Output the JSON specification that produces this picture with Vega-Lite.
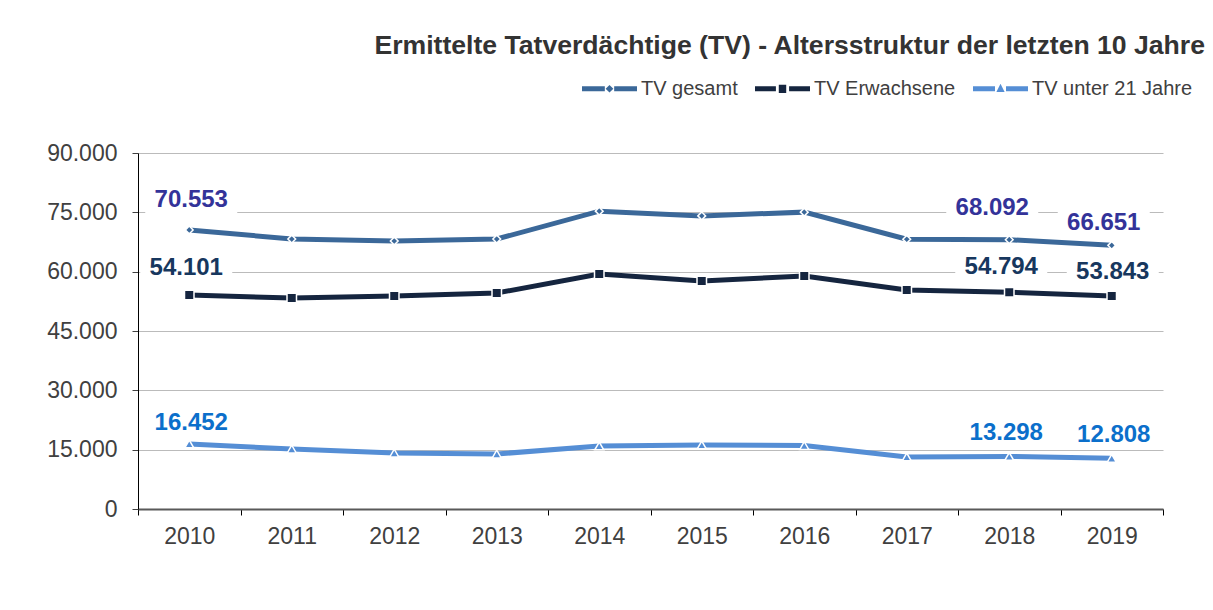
{
  "$schema": "https://vega.github.io/schema/vega-lite/v6.json",
  "width": 1025,
  "height": 356,
  "autosize": {"type": "none"},
  "padding": {"left": 138, "top": 153, "right": 50, "bottom": 101},
  "background": "white",
  "title": {
    "text": "Ermittelte Tatverdächtige (TV) - Altersstruktur der letzten 10 Jahre",
    "anchor": "end",
    "frame": "group",
    "font": "Liberation Sans",
    "fontSize": 26.6,
    "fontWeight": "bold",
    "color": "#333333",
    "dx": 42,
    "dy": 26,
    "offset": 6,
    "baseline": "alphabetic"
  },
  "config": {
    "locale": {"number": {"decimal": ",", "thousands": ".", "grouping": [3], "currency": ["", " €"]}},
    "view": {"stroke": null},
    "font": "Liberation Sans"
  },
  "data": {
    "values": [
      {"year": "2010", "series": "TV gesamt", "value": 70553},
      {"year": "2011", "series": "TV gesamt", "value": 68250},
      {"year": "2012", "series": "TV gesamt", "value": 67750},
      {"year": "2013", "series": "TV gesamt", "value": 68250},
      {"year": "2014", "series": "TV gesamt", "value": 75300},
      {"year": "2015", "series": "TV gesamt", "value": 74100},
      {"year": "2016", "series": "TV gesamt", "value": 75050},
      {"year": "2017", "series": "TV gesamt", "value": 68200},
      {"year": "2018", "series": "TV gesamt", "value": 68092},
      {"year": "2019", "series": "TV gesamt", "value": 66651},
      {"year": "2010", "series": "TV Erwachsene", "value": 54101},
      {"year": "2011", "series": "TV Erwachsene", "value": 53350},
      {"year": "2012", "series": "TV Erwachsene", "value": 53850},
      {"year": "2013", "series": "TV Erwachsene", "value": 54600},
      {"year": "2014", "series": "TV Erwachsene", "value": 59400},
      {"year": "2015", "series": "TV Erwachsene", "value": 57650},
      {"year": "2016", "series": "TV Erwachsene", "value": 58900},
      {"year": "2017", "series": "TV Erwachsene", "value": 55350},
      {"year": "2018", "series": "TV Erwachsene", "value": 54794},
      {"year": "2019", "series": "TV Erwachsene", "value": 53843},
      {"year": "2010", "series": "TV unter 21 Jahre", "value": 16452},
      {"year": "2011", "series": "TV unter 21 Jahre", "value": 15150},
      {"year": "2012", "series": "TV unter 21 Jahre", "value": 14150},
      {"year": "2013", "series": "TV unter 21 Jahre", "value": 13900},
      {"year": "2014", "series": "TV unter 21 Jahre", "value": 15950},
      {"year": "2015", "series": "TV unter 21 Jahre", "value": 16200},
      {"year": "2016", "series": "TV unter 21 Jahre", "value": 16050},
      {"year": "2017", "series": "TV unter 21 Jahre", "value": 13150},
      {"year": "2018", "series": "TV unter 21 Jahre", "value": 13298},
      {"year": "2019", "series": "TV unter 21 Jahre", "value": 12808}
    ]
  },
  "encoding": {
    "x": {
      "field": "year",
      "type": "ordinal",
      "scale": {"type": "band", "paddingInner": 0, "paddingOuter": 0},
      "axis": {
        "title": null,
        "labelAngle": 0,
        "tickBand": "extent",
        "labelFont": "Liberation Sans",
        "labelFontSize": 23,
        "labelColor": "#404040",
        "labelPadding": 10,
        "tickSize": 6,
        "tickColor": "#000000",
        "domainColor": "#595959",
        "domainWidth": 2,
        "grid": false
      }
    },
    "y": {
      "field": "value",
      "type": "quantitative",
      "scale": {"domain": [0, 90000], "nice": false},
      "axis": {
        "title": null,
        "values": [0, 15000, 30000, 45000, 60000, 75000, 90000],
        "format": ",.0f",
        "labelFont": "Liberation Sans",
        "labelFontSize": 23,
        "labelColor": "#404040",
        "labelPadding": 15,
        "tickSize": 6,
        "tickColor": "#404040",
        "domainColor": "#000000",
        "domainWidth": 1,
        "grid": true,
        "gridColor": "#BBBBBB",
        "gridWidth": 1
      }
    }
  },
  "layer": [
    {
      "mark": {"type": "line", "strokeWidth": 5},
      "encoding": {
        "color": {
          "field": "series",
          "type": "nominal",
          "scale": {"domain": ["TV gesamt", "TV Erwachsene", "TV unter 21 Jahre"], "range": ["#3B6899", "#15253F", "#558ED5"]},
          "legend": {
            "orient": "none",
            "legendX": 444,
            "legendY": -92,
            "direction": "horizontal",
            "title": null,
            "symbolSize": 3025,
            "symbolType": "square",
            "symbolStrokeWidth": 0,
            "labelFont": "Liberation Sans",
            "labelFontSize": 20,
            "labelColor": "#404040",
            "labelLimit": 400,
            "labelOffset": 4,
            "columnPadding": 17,
            "encode": {
              "symbols": {
                "update": {
                  "shape": {"signal": "datum.value === 'TV gesamt' ? 'M-1,-0.091H-0.17V0.091H-1Z M0.17,-0.091H1V0.091H0.17Z M0,-0.14L0.14,0L0,0.14L-0.14,0Z' : datum.value === 'TV Erwachsene' ? 'M-1,-0.091H-0.24V0.091H-1Z M0.24,-0.091H1V0.091H0.24Z M-0.135,-0.15H0.135V0.15H-0.135Z' : 'M-1,-0.091H-0.2V0.091H-1Z M0.2,-0.091H1V0.091H0.2Z M-0.15,0.12L0,-0.18L0.15,0.12Z'"},
                  "size": {"value": 3025},
                  "fill": {"scale": "color", "field": "value"},
                  "stroke": {"value": "transparent"},
                  "strokeWidth": {"value": 0},
                  "opacity": {"value": 1}
                }
              }
            }
          }
        }
      }
    },
    {
      "transform": [{"filter": "datum.series === 'TV gesamt'"}],
      "mark": {"type": "point", "shape": "diamond", "size": 60, "filled": true, "stroke": "white", "strokeWidth": 1.5, "opacity": 1},
      "encoding": {"color": {"field": "series", "type": "nominal", "legend": null}}
    },
    {
      "transform": [{"filter": "datum.series === 'TV Erwachsene'"}],
      "mark": {"type": "point", "shape": "square", "size": 90, "filled": true, "stroke": "white", "strokeWidth": 1.5, "opacity": 1},
      "encoding": {"color": {"field": "series", "type": "nominal", "legend": null}}
    },
    {
      "transform": [{"filter": "datum.series === 'TV unter 21 Jahre'"}],
      "mark": {"type": "point", "shape": "triangle-up", "size": 80, "filled": true, "stroke": "white", "strokeWidth": 1.5, "opacity": 1},
      "encoding": {"color": {"field": "series", "type": "nominal", "legend": null}}
    },
    {
      "transform": [{"filter": "datum.series === 'TV gesamt' && datum.year === '2010'"}],
      "layer": [
        {"mark": {"type": "point", "shape": "M-1,-0.348H1V0.348H-1Z", "size": 8464, "filled": true, "fill": "white", "strokeWidth": 0, "opacity": 1, "xOffset": 2, "yOffset": -31.5}},
        {"mark": {"type": "text", "font": "Liberation Sans", "fontSize": 24, "fontWeight": "bold", "color": "#333399", "baseline": "alphabetic", "dx": 2, "dy": -23}, "encoding": {"text": {"field": "value", "type": "quantitative", "format": ",.0f"}}}
      ]
    },
    {
      "transform": [{"filter": "datum.series === 'TV gesamt' && datum.year === '2018'"}],
      "layer": [
        {"mark": {"type": "point", "shape": "M-1,-0.348H1V0.348H-1Z", "size": 8464, "filled": true, "fill": "white", "strokeWidth": 0, "opacity": 1, "xOffset": -17, "yOffset": -33.5}},
        {"mark": {"type": "text", "font": "Liberation Sans", "fontSize": 24, "fontWeight": "bold", "color": "#333399", "baseline": "alphabetic", "dx": -17, "dy": -25}, "encoding": {"text": {"field": "value", "type": "quantitative", "format": ",.0f"}}}
      ]
    },
    {
      "transform": [{"filter": "datum.series === 'TV gesamt' && datum.year === '2019'"}],
      "layer": [
        {"mark": {"type": "point", "shape": "M-1,-0.348H1V0.348H-1Z", "size": 8464, "filled": true, "fill": "white", "strokeWidth": 0, "opacity": 1, "xOffset": -8, "yOffset": -23.5}},
        {"mark": {"type": "text", "font": "Liberation Sans", "fontSize": 24, "fontWeight": "bold", "color": "#333399", "baseline": "alphabetic", "dx": -8, "dy": -15}, "encoding": {"text": {"field": "value", "type": "quantitative", "format": ",.0f"}}}
      ]
    },
    {
      "transform": [{"filter": "datum.series === 'TV Erwachsene' && datum.year === '2010'"}],
      "layer": [
        {"mark": {"type": "point", "shape": "M-1,-0.348H1V0.348H-1Z", "size": 8464, "filled": true, "fill": "white", "strokeWidth": 0, "opacity": 1, "xOffset": -3, "yOffset": -28.5}},
        {"mark": {"type": "text", "font": "Liberation Sans", "fontSize": 24, "fontWeight": "bold", "color": "#17375E", "baseline": "alphabetic", "dx": -3, "dy": -20}, "encoding": {"text": {"field": "value", "type": "quantitative", "format": ",.0f"}}}
      ]
    },
    {
      "transform": [{"filter": "datum.series === 'TV Erwachsene' && datum.year === '2018'"}],
      "layer": [
        {"mark": {"type": "point", "shape": "M-1,-0.348H1V0.348H-1Z", "size": 8464, "filled": true, "fill": "white", "strokeWidth": 0, "opacity": 1, "xOffset": -8, "yOffset": -26.5}},
        {"mark": {"type": "text", "font": "Liberation Sans", "fontSize": 24, "fontWeight": "bold", "color": "#17375E", "baseline": "alphabetic", "dx": -8, "dy": -18}, "encoding": {"text": {"field": "value", "type": "quantitative", "format": ",.0f"}}}
      ]
    },
    {
      "transform": [{"filter": "datum.series === 'TV Erwachsene' && datum.year === '2019'"}],
      "layer": [
        {"mark": {"type": "point", "shape": "M-1,-0.348H1V0.348H-1Z", "size": 8464, "filled": true, "fill": "white", "strokeWidth": 0, "opacity": 1, "xOffset": 1, "yOffset": -25.5}},
        {"mark": {"type": "text", "font": "Liberation Sans", "fontSize": 24, "fontWeight": "bold", "color": "#17375E", "baseline": "alphabetic", "dx": 1, "dy": -17}, "encoding": {"text": {"field": "value", "type": "quantitative", "format": ",.0f"}}}
      ]
    },
    {
      "transform": [{"filter": "datum.series === 'TV unter 21 Jahre' && datum.year === '2010'"}],
      "layer": [
        {"mark": {"type": "point", "shape": "M-1,-0.348H1V0.348H-1Z", "size": 8464, "filled": true, "fill": "white", "strokeWidth": 0, "opacity": 1, "xOffset": 2, "yOffset": -22.5}},
        {"mark": {"type": "text", "font": "Liberation Sans", "fontSize": 24, "fontWeight": "bold", "color": "#0B6FCB", "baseline": "alphabetic", "dx": 2, "dy": -14}, "encoding": {"text": {"field": "value", "type": "quantitative", "format": ",.0f"}}}
      ]
    },
    {
      "transform": [{"filter": "datum.series === 'TV unter 21 Jahre' && datum.year === '2018'"}],
      "layer": [
        {"mark": {"type": "point", "shape": "M-1,-0.348H1V0.348H-1Z", "size": 8464, "filled": true, "fill": "white", "strokeWidth": 0, "opacity": 1, "xOffset": -3, "yOffset": -24.5}},
        {"mark": {"type": "text", "font": "Liberation Sans", "fontSize": 24, "fontWeight": "bold", "color": "#0B6FCB", "baseline": "alphabetic", "dx": -3, "dy": -16}, "encoding": {"text": {"field": "value", "type": "quantitative", "format": ",.0f"}}}
      ]
    },
    {
      "transform": [{"filter": "datum.series === 'TV unter 21 Jahre' && datum.year === '2019'"}],
      "layer": [
        {"mark": {"type": "point", "shape": "M-1,-0.348H1V0.348H-1Z", "size": 8464, "filled": true, "fill": "white", "strokeWidth": 0, "opacity": 1, "xOffset": 2, "yOffset": -24.5}},
        {"mark": {"type": "text", "font": "Liberation Sans", "fontSize": 24, "fontWeight": "bold", "color": "#0B6FCB", "baseline": "alphabetic", "dx": 2, "dy": -16}, "encoding": {"text": {"field": "value", "type": "quantitative", "format": ",.0f"}}}
      ]
    }
  ]
}
